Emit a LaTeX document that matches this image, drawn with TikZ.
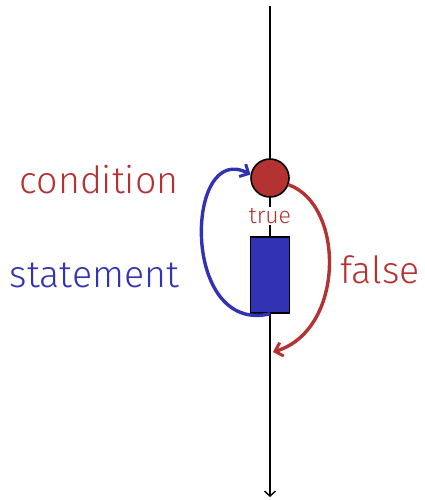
\documentclass[tikz,border=0pt]{standalone}
\usepackage{fontspec}
\setmainfont{Fira Sans}[UprightFont=* Light]
\usetikzlibrary{arrows.meta}
\definecolor{cred}{RGB}{181,50,50}
\definecolor{cblue}{RGB}{50,50,180}
\tikzset{
  mainline/.style={line width=1.6pt, black},
  loopred/.style={line width=3.4pt, cred, -{Straight Barb[length=7pt,width=14pt,line width=3pt]}},
  loopblue/.style={line width=3.4pt, cblue, -{Straight Barb[length=7pt,width=14pt,line width=3pt]}},
  label/.style={font=\fontsize{37.5}{44}\selectfont, inner sep=0pt},
}
\begin{document}
\begin{tikzpicture}[x=1pt,y=-1pt]
\useasboundingbox (0,0) rectangle (424,500);
\coordinate (top) at (270,6);
\coordinate (bot) at (270,497);
\draw[mainline, -{Straight Barb[length=5pt,width=11pt,line width=1.4pt]}] (top) -- (bot);
\node[circle, draw=black, line width=1.6pt, fill=cred, minimum size=38pt, inner sep=0pt] (cond) at (270,178) {};
\node[draw=black, line width=1.6pt, fill=cblue, minimum width=39pt, minimum height=76pt, inner sep=0pt] (stmt) at (270,275) {};
\node[font=\fontsize{23}{27}\selectfont, text=cred, fill=white, inner sep=1pt] (true) at (270,216) {true};
\draw[loopblue] (stmt.south) .. controls (180,335) and (185,140) .. (cond.170);
\draw[loopred] (cond.-20) .. controls (345,205) and (345,330) .. (273,352);
\node[label, text=cred] (lcond) at (99,180) {condition};
\node[label, text=cblue] (lstmt) at (94.5,275) {statement};
\node[label, text=cred] (lfalse) at (380,270) {false};
\end{tikzpicture}
\end{document}
